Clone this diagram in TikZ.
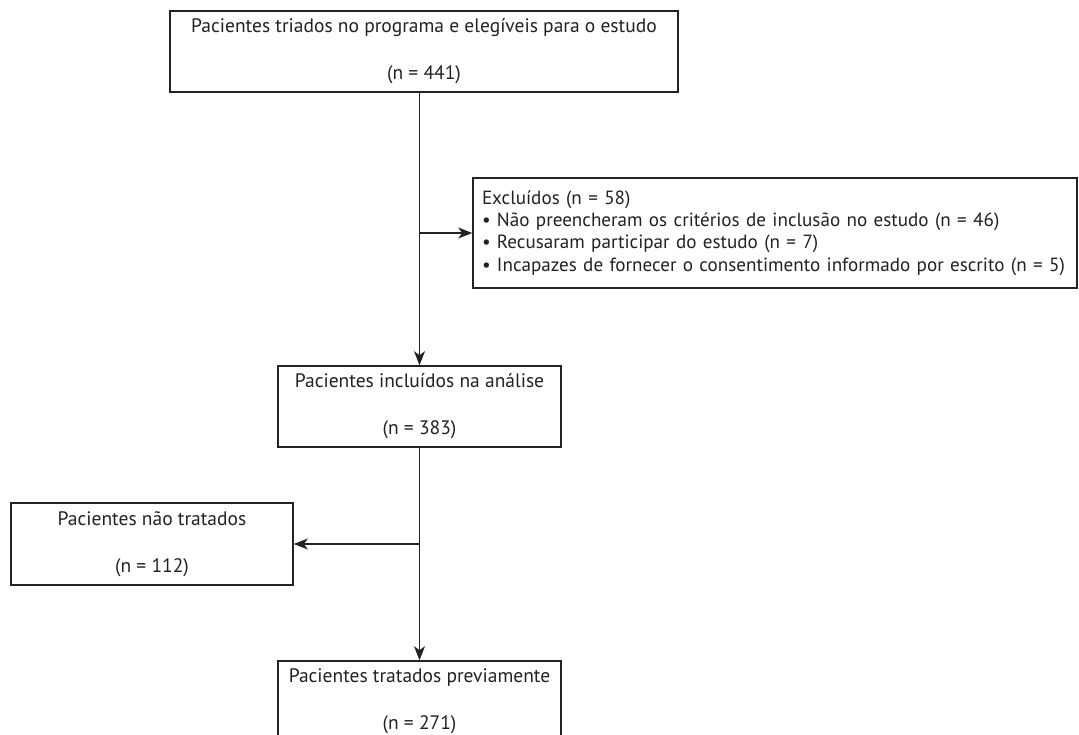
\documentclass[tikz,border=0pt]{standalone}
\usepackage{fontspec}
\setmainfont{PT Sans}
\usepackage{tikz}
\usetikzlibrary{arrows.meta}
\definecolor{tinta}{HTML}{222222}
\tikzset{
  caixa/.style={draw=tinta, line width=1.6pt, minimum width=283pt, minimum height=81pt, inner sep=0pt, align=center, text=tinta, font=\fontsize{19.5}{23.5}\selectfont},
  seta/.style={draw=tinta, line width=1.6pt, -{Stealth[length=14pt, width=11pt, inset=4pt]}}
}

\begin{document}
\begin{tikzpicture}[x=1pt, y=-1pt]
            \clip (0,0) rectangle (1079,734);
            \fill [white] (0,0) rectangle (1079,734);
            \node [caixa, minimum width=508pt] (triados) at (424,51.5) {Pacientes triados no programa e elegíveis para o estudo\\[23.5pt](n = 441)};
            % caixa dos excluidos, texto alinhado a esquerda
            \node [caixa, minimum width=604pt, minimum height=110pt, text width=586pt, align=left, font=\fontsize{19.1}{22.3}\selectfont] (excluidos) at (775,233) {Excluídos (n = 58)\\• Não preencheram os critérios de inclusão no estudo (n = 46)\\• Recusaram participar do estudo (n = 7)\\• Incapazes de fornecer o consentimento informado por escrito (n = 5)};
            \node [caixa] (incluidos) at (419.5,406.5) {Pacientes incluídos na análise\\[23.5pt](n = 383)};
            \node [caixa, minimum width=282pt, minimum height=82pt] (naotratados) at (152,544) {Pacientes não tratados\\[23.5pt](n = 112)};
            \node [caixa] (tratados) at (419.5,701.5) {Pacientes tratados previamente\\[23.5pt](n = 271)};

            \draw [seta] (triados.south -| incluidos.north) -- (incluidos.north);
            \draw [seta] (excluidos.west -| incluidos.north) -- (excluidos.west);
            \draw [seta] (incluidos.south) -- (tratados.north);
            \draw [seta] (naotratados.east -| incluidos.south) -- (naotratados.east);
        \end{tikzpicture}
\end{document}
